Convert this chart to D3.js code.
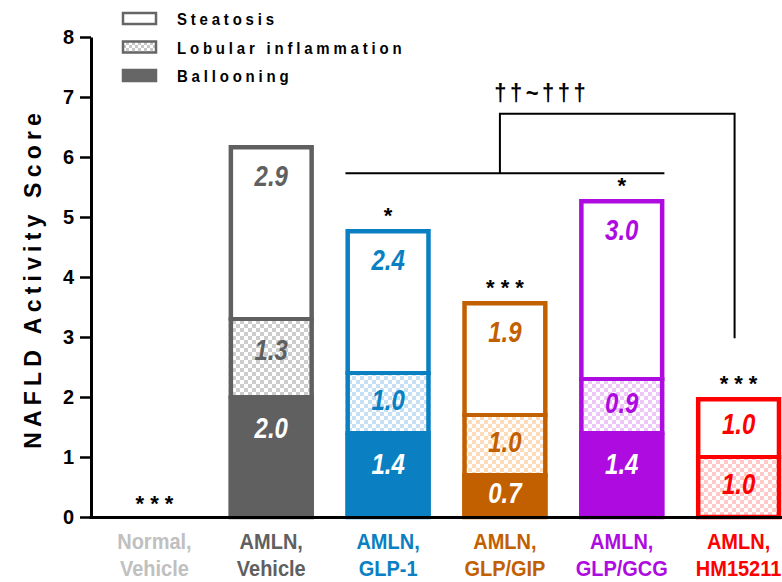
<!DOCTYPE html>
<html>
<head>
<meta charset="utf-8">
<script src="https://cdn.jsdelivr.net/npm/d3@7"></script>
<style>
  html, body { margin: 0; padding: 0; background: #fff; }
  svg { display: block; font-family: "Liberation Sans", Arial, sans-serif; }
</style>
</head>
<body>
<svg id="chart" width="782" height="582"></svg>
<script>
// ---- data -------------------------------------------------------------
const groupsLine1 = ["Normal,", "AMLN,", "AMLN,", "AMLN,", "AMLN,", "AMLN,"];
const groupsLine2 = ["Vehicle", "Vehicle", "GLP-1", "GLP/GIP", "GLP/GCG", "HM15211"];
const ballooning = [0, 2.0, 1.4, 0.7, 1.4, 0];
const lobular    = [0, 1.3, 1.0, 1.0, 0.9, 1.0];
const steatosis  = [0, 2.9, 2.4, 1.9, 3.0, 1.0];
const vsVehicle  = ["***", "", "*", "***", "*", "***"];
const yTicks = [0, 1, 2, 3, 4, 5, 6, 7, 8];
const componentKeys  = ["ballooning", "lobular", "steatosis"];
const componentNames = ["Steatosis", "Lobular inflammation", "Ballooning"];
// bracket: GLP-1..GLP/GCG vs HM15211 (score levels of group line, joining line, leg foot)
const bracketFrom = 2, bracketTo = 4, bracketTarget = 5;
const bracketLevels = [5.73, 6.72, 2.98];
const bracketLabel = "††~†††";

// ---- styles -----------------------------------------------------------
const groupColors = ["#c0c0c0", "#606060", "#0a80c2", "#c26000", "#ae0be0", "#ff0000"];
const groupTints  = ["#e6e6e6", "#cdcdcd", "#c6dff3", "#ffdcb9", "#ecc7f8", "#ffc9c9"];
const W = 782, H = 582;
const svg = d3.select("#chart");
const FONT = "\"Liberation Sans\", Arial, sans-serif";

// ---- scales -----------------------------------------------------------
const x = d3.scaleBand().domain(d3.range(groupsLine2.length))
  .range([96, 797]).paddingInner(0.27).paddingOuter(0.135);
const y = d3.scaleLinear().domain([0, 8]).range([517, 37]);
const axisX = 91;

// ---- checker patterns -------------------------------------------------
const defs = svg.append("defs");
groupTints.forEach((tint, i) => {
  const p = defs.append("pattern").attr("id", "chk" + i)
    .attr("patternUnits", "userSpaceOnUse").attr("width", 8).attr("height", 8);
  p.append("rect").attr("width", 8).attr("height", 8).attr("fill", "#fff");
  p.append("rect").attr("width", 4).attr("height", 4).attr("fill", tint);
  p.append("rect").attr("x", 4).attr("y", 4).attr("width", 4).attr("height", 4).attr("fill", tint);
});
const legendPat = defs.append("pattern").attr("id", "chkLegend")
  .attr("patternUnits", "userSpaceOnUse").attr("width", 6).attr("height", 6);
legendPat.append("rect").attr("width", 6).attr("height", 6).attr("fill", "#fff");
legendPat.append("rect").attr("width", 3).attr("height", 3).attr("fill", "#c8c8c8");
legendPat.append("rect").attr("x", 3).attr("y", 3).attr("width", 3).attr("height", 3).attr("fill", "#c8c8c8");

// helper: text with a slight vertical stretch
function stretched(g, tx, ty, str, opts) {
  const t = g.append("text")
    .attr("transform", `translate(${tx},${ty}) scale(1,${opts.sy || 1})`)
    .attr("text-anchor", opts.anchor || "middle")
    .attr("font-family", FONT)
    .attr("font-size", opts.size)
    .attr("font-weight", opts.weight || "bold")
    .attr("font-style", opts.style || "normal")
    .attr("fill", opts.fill || "#000")
    .text(str);
  if (opts.ls) t.attr("letter-spacing", opts.ls);
  if (opts.dx) t.attr("dx", opts.dx);
  if (opts.baseline) t.attr("dominant-baseline", opts.baseline);
  return t;
}

// ---- stacked bars -----------------------------------------------------
const rows = groupsLine2.map((g, i) => ({
  i, ballooning: ballooning[i], lobular: lobular[i], steatosis: steatosis[i]
}));
const series = d3.stack().keys(componentKeys)(rows);

const barsG = svg.append("g");
series.forEach(s => {
  s.forEach((d, i) => {
    if (d[1] - d[0] <= 0) return;
    const fill = s.key === "ballooning" ? groupColors[i]
      : s.key === "lobular" ? `url(#chk${i})` : "#fff";
    barsG.append("rect")
      .attr("x", x(i)).attr("width", x.bandwidth())
      .attr("y", y(d[1])).attr("height", y(d[0]) - y(d[1]))
      .attr("fill", fill);
  });
});

// separators between components and the outline of each bar
const SW = 4.5;
rows.forEach((r, i) => {
  const total = r.ballooning + r.lobular + r.steatosis;
  if (total <= 0) return;
  let acc = 0;
  componentKeys.forEach((k, j) => {
    if (r[k] > 0 && acc > 0) {
      barsG.append("line")
        .attr("x1", x(i)).attr("x2", x(i) + x.bandwidth())
        .attr("y1", y(acc)).attr("y2", y(acc))
        .attr("stroke", groupColors[i]).attr("stroke-width", 4);
    }
    acc += r[k];
  });
  barsG.append("rect")
    .attr("x", x(i) + SW / 2).attr("width", x.bandwidth() - SW)
    .attr("y", y(total) + SW / 2).attr("height", y(0) - y(total) - SW / 2)
    .attr("fill", "none").attr("stroke", groupColors[i]).attr("stroke-width", SW);
});

// component values inside the bars
const labelsG = svg.append("g");
series.forEach(s => {
  s.forEach((d, i) => {
    const v = d.data[s.key];
    if (v <= 0) return;
    const top = y(d[1]), h = y(d[0]) - y(d[1]);
    const cy = top + Math.min(h / 2 - 3, 31);
    stretched(labelsG, x(i) + x.bandwidth() / 2, cy, v.toFixed(1), {
      size: 24, sy: 1.2, style: "italic",
      fill: s.key === "ballooning" ? "#fff" : groupColors[i],
      baseline: "central"
    });
  });
});

// significance vs vehicle
rows.forEach((r, i) => {
  if (!vsVehicle[i]) return;
  const total = r.ballooning + r.lobular + r.steatosis;
  stretched(svg, x(i) + x.bandwidth() / 2, y(total) - 6, vsVehicle[i], {
    size: 22, weight: "bold", ls: 6, dx: 3, fill: "#000"
  });
});

// ---- axes -------------------------------------------------------------
const yAxis = svg.append("g")
  .attr("transform", `translate(${axisX},0)`)
  .call(d3.axisLeft(y).tickValues(yTicks).tickFormat(d3.format("d"))
    .tickSize(11).tickSizeOuter(0).tickPadding(6));
yAxis.select(".domain").attr("stroke", "#000").attr("stroke-width", 3);
yAxis.selectAll(".tick line").attr("stroke", "#000").attr("stroke-width", 2.5);
yAxis.selectAll(".tick text")
  .attr("font-family", FONT).attr("font-size", 20).attr("font-weight", "bold")
  .attr("fill", "#000");

svg.append("line")
  .attr("x1", axisX - 1.5).attr("x2", W)
  .attr("y1", y(0) + 0.5).attr("y2", y(0) + 0.5)
  .attr("stroke", "#000").attr("stroke-width", 3);

// category labels
groupsLine2.forEach((g, i) => {
  const cx = x(i) + x.bandwidth() / 2;
  stretched(svg, cx, 549, groupsLine1[i], { size: 20, sy: 1.12, fill: groupColors[i] });
  stretched(svg, cx, 576, groupsLine2[i], { size: 20, sy: 1.12, fill: groupColors[i] });
});

// y-axis title
svg.append("text")
  .attr("transform", "translate(41,281) rotate(-90)")
  .attr("text-anchor", "middle")
  .attr("font-family", FONT).attr("font-size", 23).attr("font-weight", "bold")
  .attr("letter-spacing", 5.2).attr("dx", 2.6)
  .attr("fill", "#000")
  .text("NAFLD Activity Score");

// ---- bracket ----------------------------------------------------------
const bx0 = x(bracketFrom), bx1 = x(bracketTo) + x.bandwidth();
const bMid = (bx0 + bx1) / 2 - 5;
const bRight = x(bracketTarget) + x.bandwidth() / 2 - 4;
const bPath = d3.path();
bPath.moveTo(bx0, y(bracketLevels[0])); bPath.lineTo(bx1, y(bracketLevels[0]));
bPath.moveTo(bMid, y(bracketLevels[0])); bPath.lineTo(bMid, y(bracketLevels[1]));
bPath.lineTo(bRight, y(bracketLevels[1])); bPath.lineTo(bRight, y(bracketLevels[2]));
svg.append("path").attr("d", bPath.toString())
  .attr("fill", "none").attr("stroke", "#000").attr("stroke-width", 2);
stretched(svg, bMid + 40, y(bracketLevels[1]) - 13, bracketLabel, {
  size: 22, sy: 1.1, ls: 3.5, dx: 1.75, fill: "#000"
});

// ---- legend -----------------------------------------------------------
const legendG = svg.append("g");
const legendFills = ["#fff", "url(#chkLegend)", "#666"];
componentNames.forEach((name, j) => {
  const top = 12 + j * 28.5;
  legendG.append("rect")
    .attr("x", 123).attr("y", top + 1).attr("width", 33).attr("height", 11)
    .attr("fill", legendFills[j]).attr("stroke", "#666").attr("stroke-width", 2.5);
  stretched(legendG, 177, top + 13, name, {
    size: 15, sy: 1.1, ls: 3.8, anchor: "start", fill: "#000"
  });
});
</script>
</body>
</html>
